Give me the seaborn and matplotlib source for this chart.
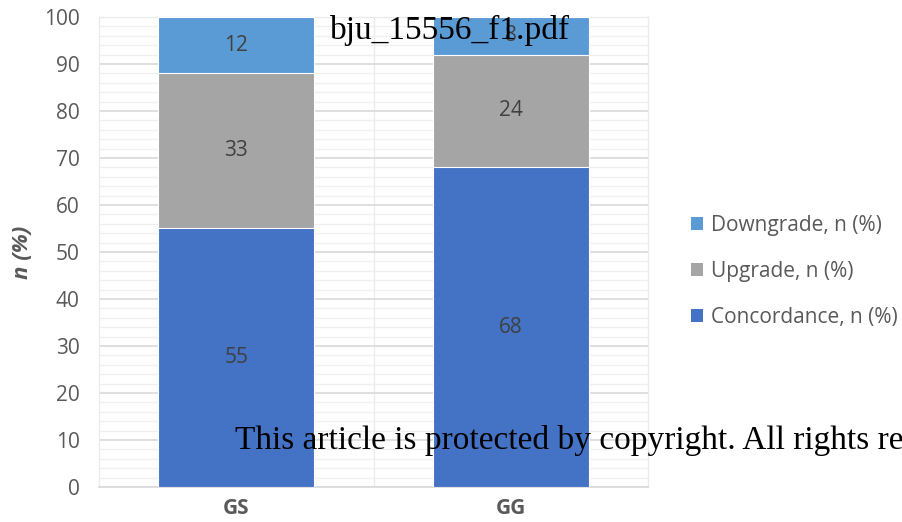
import matplotlib
matplotlib.use("Agg")
import matplotlib.pyplot as plt
import seaborn as sns
import numpy as np
import pandas as pd
from matplotlib.patches import Patch

categories = ["GS", "GG"]
concordance = [55, 68]
upgrade = [33, 24]
downgrade = [12, 8]
series_names = ["Concordance, n (%)", "Upgrade, n (%)", "Downgrade, n (%)"]
colors = ["#4472C4", "#A5A5A5", "#5B9BD5"]
yticks = list(range(0, 101, 10))

sns.set_theme(style="white")
plt.rcParams["font.family"] = ["Open Sans", "DejaVu Sans"]

fig = plt.figure(figsize=(9.03, 5.22), dpi=100)
ax = fig.add_axes([99/903, 35/522, (648-99)/903, (487-17)/522])

layers = [concordance, upgrade, downgrade]
cum = np.cumsum(np.array(layers), axis=0)

# draw from top layer down so cumulative bars stack
for i in reversed(range(len(layers))):
    df = pd.DataFrame({"cat": categories, "val": cum[i]})
    sns.barplot(data=df, x="cat", y="val", color=colors[i], width=0.57,
                saturation=1, ax=ax, edgecolor="white", linewidth=0.8, zorder=3)

# labels
for i in range(len(layers)):
    for j, cat in enumerate(categories):
        bottom = cum[i][j] - layers[i][j]
        ax.text(j, bottom + layers[i][j] / 2, str(layers[i][j]), ha="center",
                va="center", fontsize=15, color="#404040", zorder=5)

ax.set_ylim(0, 100)
ax.set_xlim(-0.5, 1.5)
ax.set_yticks(yticks)
ax.set_yticks(np.arange(0, 101, 2), minor=True)
ax.set_yticklabels([str(t) for t in yticks], fontsize=15, color="#595959")
ax.grid(axis="y", which="major", color="#D9D9D9", linewidth=1.2, zorder=0)
ax.grid(axis="y", which="minor", color="#F0F0F0", linewidth=1.0, zorder=0)
ax.axvline(0.5, color="#EBEBEB", linewidth=1.0, zorder=0)
ax.set_axisbelow(True)
for s in ["top", "right", "left"]:
    ax.spines[s].set_color("#EBEBEB")
    ax.spines[s].set_linewidth(1.0)
ax.spines["bottom"].set_color("#D9D9D9")
ax.spines["bottom"].set_linewidth(1.2)
ax.tick_params(axis="y", which="both", length=0, pad=14)
ax.tick_params(axis="x", which="both", length=0, pad=8)
ax.set_xticks([0, 1])
ax.set_xticklabels(categories, fontsize=15, fontweight="bold", color="#595959")
ax.set_xlabel("")
ax.set_ylabel("n (%)", fontsize=16, fontweight="bold", fontstyle="italic",
              color="#595959")
ax.yaxis.set_label_coords(-66/549, 0.5)

handles = [Patch(facecolor=colors[i], edgecolor="none", label=series_names[i])
           for i in [2, 1, 0]]
fig.legend(handles=handles, loc="center left", bbox_to_anchor=(672/903, 1 - 271/522),
           frameon=False, fontsize=15, labelcolor="#595959", handlelength=0.6,
           handleheight=0.6, handletextpad=0.35, labelspacing=1.2)

fig.text(330/903, 1 - 30/522, "bju_15556_f1.pdf", fontsize=24,
         family=["Liberation Serif"], color="black", va="center", ha="left", zorder=10)
fig.text(235/903, 1 - 440/522, "This article is protected by copyright. All rights re",
         fontsize=24, family=["Liberation Serif"], color="black", va="center",
         ha="left", zorder=10)

fig.savefig("out.png", dpi=100)
